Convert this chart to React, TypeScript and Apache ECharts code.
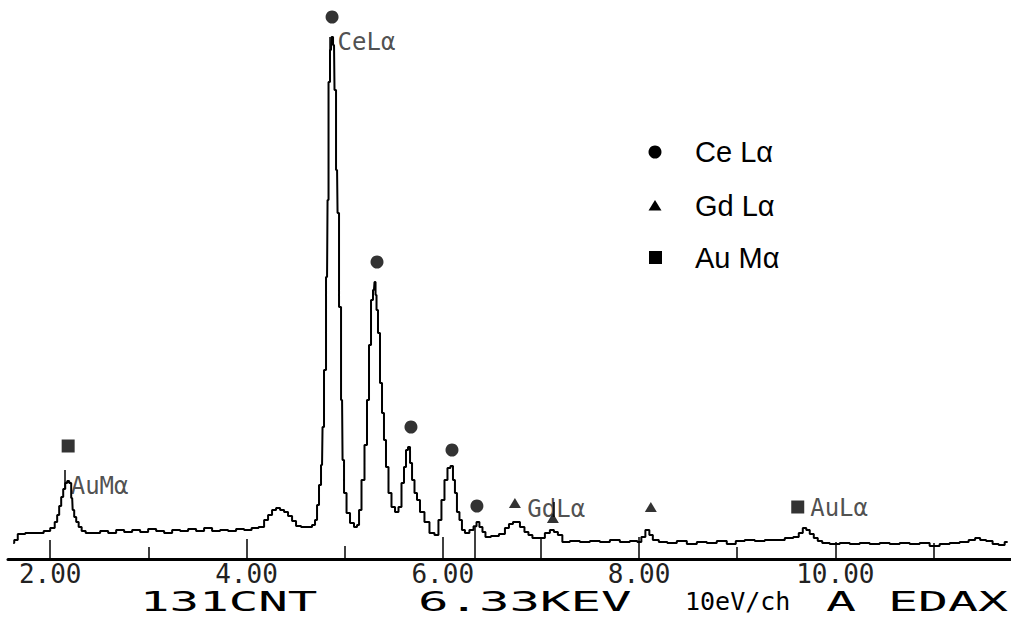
import { useEffect, useRef } from "react";
import * as echarts from "echarts";

// EDS spectrum, 10 eV/ch: energy (keV) and counts per channel
const energy: number[] = [
  1.623, 1.644, 1.695, 1.796, 1.898, 1.969, 2.031, 2.061, 2.081, 2.102,
  2.122, 2.143, 2.163, 2.183, 2.204, 2.224, 2.234, 2.255, 2.275, 2.305,
  2.336, 2.387, 2.468, 2.55, 2.631, 2.713, 2.794, 2.876, 2.957, 3.039,
  3.12, 3.202, 3.283, 3.365, 3.446, 3.527, 3.609, 3.69, 3.772, 3.853,
  3.935, 4.016, 4.088, 4.159, 4.2, 4.24, 4.281, 4.322, 4.363, 4.403,
  4.444, 4.485, 4.525, 4.587, 4.648, 4.688, 4.709, 4.729, 4.749, 4.77,
  4.78, 4.8, 4.821, 4.831, 4.841, 4.861, 4.872, 4.892, 4.902, 4.923,
  4.933, 4.953, 4.974, 4.984, 5.004, 5.035, 5.075, 5.116, 5.137, 5.157,
  5.187, 5.218, 5.238, 5.259, 5.279, 5.299, 5.31, 5.32, 5.33, 5.35,
  5.371, 5.391, 5.411, 5.432, 5.462, 5.493, 5.534, 5.564, 5.595, 5.615,
  5.636, 5.656, 5.677, 5.697, 5.727, 5.748, 5.788, 5.839, 5.89, 5.941,
  5.971, 6.002, 6.033, 6.063, 6.094, 6.114, 6.134, 6.155, 6.185, 6.206,
  6.246, 6.297, 6.33, 6.358, 6.389, 6.42, 6.45, 6.532, 6.613, 6.654,
  6.695, 6.736, 6.766, 6.807, 6.858, 6.888, 6.939, 7.01, 7.071, 7.112,
  7.153, 7.193, 7.244, 7.346, 7.448, 7.55, 7.652, 7.754, 7.855, 7.957,
  8.008, 8.039, 8.09, 8.12, 8.161, 8.242, 8.334, 8.436, 8.538, 8.64,
  8.741, 8.843, 8.945, 9.026, 9.128, 9.23, 9.332, 9.434, 9.536, 9.607,
  9.648, 9.689, 9.719, 9.76, 9.801, 9.841, 9.892, 9.994, 10.096, 10.198,
  10.299, 10.401, 10.503, 10.605, 10.707, 10.809, 10.91, 11.012, 11.114, 11.216,
  11.318, 11.399, 11.45, 11.501, 11.572, 11.633, 11.695, 11.756,
];
const counts: number[] = [
  64, 76, 100, 104, 104, 112, 124, 148, 176, 212,
  248, 280, 304, 312, 304, 244, 196, 168, 148, 128,
  112, 104, 104, 112, 104, 116, 108, 116, 108, 120,
  112, 104, 116, 112, 120, 112, 124, 112, 116, 112,
  120, 116, 124, 128, 156, 176, 196, 204, 196, 188,
  172, 152, 132, 128, 128, 136, 156, 216, 296, 376,
  528, 756, 1128, 1436, 1908, 2036, 2088, 2056, 1876, 1556,
  1384, 1008, 636, 396, 264, 184, 144, 128, 136, 196,
  316, 456, 636, 856, 1036, 1076, 1108, 1056, 996, 904,
  704, 584, 476, 368, 264, 208, 188, 208, 304, 368,
  436, 448, 384, 316, 264, 236, 188, 148, 104, 96,
  156, 236, 316, 364, 372, 316, 264, 188, 156, 116,
  104, 116, 131, 148, 128, 108, 88, 92, 100, 124,
  140, 148, 148, 128, 108, 96, 84, 84, 104, 116,
  108, 96, 68, 72, 68, 72, 68, 76, 68, 72,
  68, 88, 116, 96, 76, 68, 64, 72, 60, 68,
  64, 72, 60, 72, 76, 72, 76, 76, 84, 88,
  104, 124, 116, 100, 84, 72, 64, 60, 64, 60,
  64, 60, 64, 60, 64, 60, 64, 52, 60, 64,
  68, 76, 84, 76, 72, 60, 56, 68,
];

// Peak identification markers (placed above each line)
const ceEnergy = [4.872, 5.33, 5.676, 6.094, 6.348];
const ceCounts = [2168, 1188, 528, 436, 212];
const gdEnergy = [6.735, 7.122, 8.12];
const gdCounts = [224, 164, 208];
const auEnergy = [2.183, 9.617];
const auCounts = [452, 208];

// Line labels written by the analyser
const labelText = ["CeLα", "AuMα", "GdLα", "AuLα"];
const labelEnergy = [4.923, 2.204, 6.857, 9.739];
const labelCounts = [2068, 292, 200, 204];

// Short KLM bars beside the labels
const barEnergy = [4.851, 2.153, 7.132];
const barLow = [2024, 284, 168];
const barHigh = [2088, 356, 228];

// Energy ticks (keV) and how far each tick rises
const tickEnergy = [2, 3, 4, 5, 6, 7, 8, 9, 10, 11];
const tickHeight = [76, 48, 80, 52, 88, 84, 88, 48, 68, 64];
const tickLabels = [2, 4, 6, 8, 10];

// Cursor readout
const cursorEnergy = 6.33;
const cursorCounts = 131;

const legendNames = ["Ce Lα", "Gd Lα", "Au Mα"];

const mono = "DejaVu Sans Mono";
const sans = "Liberation Sans, Arial, sans-serif";

export default function App() {
  const ref = useRef<HTMLDivElement>(null);

  useEffect(() => {
    const chart = echarts.init(ref.current!, null, { renderer: "svg" });

    const spectrum = energy.map((e, i) => [e, counts[i]]);
    const segments: any[] = tickEnergy.map((e, i) => [
      { coord: [e, 0] },
      { coord: [e, tickHeight[i]] },
    ]);
    segments.push([{ coord: [cursorEnergy, 0] }, { coord: [cursorEnergy, cursorCounts] }]);
    barEnergy.forEach((e, i) => {
      segments.push([{ coord: [e, barLow[i]] }, { coord: [e, barHigh[i]] }]);
    });

    const readout = (text: string, x: number, y: number, size: number, sx: number) => ({
      type: "text",
      x,
      y,
      scaleX: sx,
      style: {
        text,
        fill: "#000",
        font: `${size}px ${mono}`,
        lineHeight: 20,
        textAlign: "left",
        textVerticalAlign: "middle",
      },
    });

    chart.setOption({
      animation: false,
      backgroundColor: "#fff",
      grid: { left: 8, right: 0, top: 0, bottom: 58 },
      xAxis: {
        type: "value",
        min: 1.57,
        max: 11.79,
        axisLine: { show: true, onZero: false, lineStyle: { color: "#000", width: 3 } },
        axisTick: { show: false },
        splitLine: { show: false },
        axisLabel: {
          customValues: tickLabels,
          formatter: (v: number) => v.toFixed(2),
          fontFamily: mono,
          fontSize: 26,
          color: "#222",
          margin: 2,
        },
      },
      yAxis: { type: "value", min: 0, max: 2236, show: false },
      series: [
        {
          type: "line",
          step: "middle",
          data: spectrum,
          showSymbol: false,
          lineStyle: { color: "#000", width: 2 },
          markLine: {
            silent: true,
            symbol: ["none", "none"],
            label: { show: false },
            lineStyle: { color: "#000", width: 1.5, type: "solid" },
            data: segments,
          },
        },
        {
          name: legendNames[0],
          type: "scatter",
          symbol: "circle",
          symbolSize: 13,
          itemStyle: { color: "#000" },
          data: ceEnergy.map((e, i) => [e, ceCounts[i]]),
        },
        {
          name: legendNames[1],
          type: "scatter",
          symbol: "triangle",
          symbolSize: [12, 10],
          itemStyle: { color: "#000" },
          data: gdEnergy.map((e, i) => [e, gdCounts[i]]),
        },
        {
          name: legendNames[2],
          type: "scatter",
          symbol: "rect",
          symbolSize: 13,
          itemStyle: { color: "#000" },
          data: auEnergy.map((e, i) => [e, auCounts[i]]),
        },
        {
          type: "scatter",
          symbol: "circle",
          symbolSize: 1,
          itemStyle: { color: "rgba(0,0,0,0)" },
          data: labelEnergy.map((e, i) => ({ value: [e, labelCounts[i]], name: labelText[i] })),
          label: {
            show: true,
            position: "right",
            distance: 0,
            formatter: (p: any) => p.name,
            fontFamily: mono,
            fontSize: 24,
            color: "#222",
          },
        },
      ],
      graphic: [
        { type: "circle", shape: { cx: 655, cy: 152, r: 6.5 }, style: { fill: "#000" } },
        {
          type: "polygon",
          shape: { points: [[655, 200], [661.5, 210.5], [648.5, 210.5]] },
          style: { fill: "#000" },
        },
        { type: "rect", shape: { x: 649, y: 251, width: 13, height: 13 }, style: { fill: "#000" } },
        ...legendNames.map((t, i) => ({
          type: "text",
          x: 695,
          y: [152, 206, 258][i],
          style: {
            text: t,
            fill: "#000",
            font: `29px ${sans}`,
            textAlign: "left",
            textVerticalAlign: "middle",
          },
        })),
        readout("131CNT", 140, 602, 26, 1.89),
        readout("6.33KEV", 418, 602, 26, 1.95),
        readout("10eV/ch", 685, 601, 25, 1),
        readout("A", 826, 602, 26, 1.92),
        readout("EDAX", 888, 602, 26, 1.92),
      ],
    });

    return () => chart.dispose();
  }, []);

  return (
    <div
      ref={ref}
      style={{ position: "fixed", left: 0, top: 0, width: 1011, height: 617, background: "#fff" }}
    />
  );
}
